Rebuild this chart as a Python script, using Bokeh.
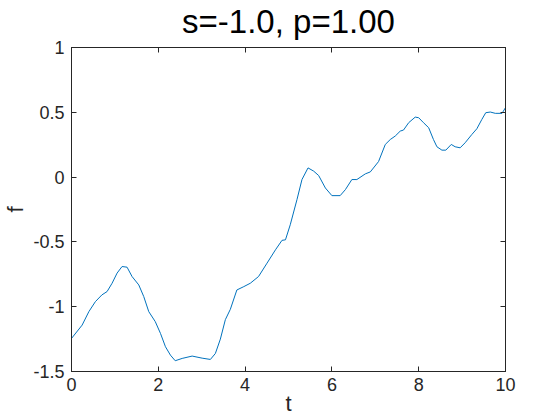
from bokeh.plotting import figure
from bokeh.models import LinearAxis, FixedTicker, CustomJSTickFormatter, Range1d
from bokeh.embed import file_html
from bokeh.resources import INLINE

# Data
t = [0.0, 0.245, 0.40, 0.55, 0.70, 0.82, 0.935, 1.05, 1.165, 1.28, 1.395, 1.55,
     1.665, 1.78, 1.93, 2.05, 2.165, 2.28, 2.39, 2.55, 2.78, 3.01, 3.2, 3.315,
     3.43, 3.545, 3.66, 3.81, 3.97, 4.12, 4.31, 4.505, 4.70, 4.85, 4.93, 5.04,
     5.195, 5.31, 5.45, 5.58, 5.695, 5.85, 6.0, 6.19, 6.31, 6.46, 6.575, 6.77,
     6.885, 7.075, 7.23, 7.345, 7.46, 7.575, 7.65, 7.77, 7.92, 8.0, 8.11, 8.23,
     8.34, 8.42, 8.535, 8.625, 8.75, 8.84, 8.955, 9.07, 9.225, 9.34, 9.455,
     9.545, 9.65, 9.765, 9.92, 10.0]
f = [-1.245, -1.142, -1.038, -0.961, -0.909, -0.883, -0.819, -0.741, -0.690,
     -0.695, -0.767, -0.832, -0.922, -1.038, -1.115, -1.206, -1.309, -1.374,
     -1.417, -1.399, -1.381, -1.397, -1.407, -1.361, -1.25, -1.10, -1.02,
     -0.871, -0.845, -0.819, -0.767, -0.664, -0.561, -0.488, -0.484, -0.368,
     -0.174, -0.019, 0.071, 0.046, 0.012, -0.084, -0.143, -0.143, -0.097,
     -0.019, -0.019, 0.025, 0.040, 0.12, 0.252, 0.290, 0.317, 0.355, 0.363,
     0.420, 0.463, 0.458, 0.420, 0.381, 0.290, 0.234, 0.208, 0.208, 0.252,
     0.234, 0.226, 0.265, 0.329, 0.373, 0.445, 0.497, 0.502, 0.492, 0.492,
     0.536]
x_ticks = [0, 2, 4, 6, 8, 10]
y_ticks = [-1.5, -1, -0.5, 0, 0.5, 1]
title_text = "s=-1.0, p=1.00"

FONT = "Liberation Sans"
AXC = "#262626"

p = figure(frame_width=434, frame_height=324, output_backend="svg",
           toolbar_location=None,
           x_range=Range1d(0, 10), y_range=Range1d(-1.5, 1),
           x_axis_label="t", y_axis_label="f", title=title_text,
           min_border_left=65, min_border_right=45, min_border_top=45,
           min_border_bottom=20)
p.styles = {"margin-top": "-8px"}
p.background_fill_color = "white"
p.border_fill_color = "white"
p.outline_line_color = AXC
p.outline_line_width = 1
p.xgrid.visible = False
p.ygrid.visible = False

p.title.align = "center"
p.title.text_font = FONT
p.title.text_font_size = "33px"
p.title.text_font_style = "normal"
p.title.text_color = "black"
p.title.standoff = 16

fmt = CustomJSTickFormatter(code="return tick.toString();")
blank = CustomJSTickFormatter(code="return '';")

def style(ax, ticks, formatter, labels=True):
    ax.ticker = FixedTicker(ticks=ticks)
    ax.formatter = formatter
    ax.axis_line_color = AXC
    ax.major_tick_line_color = AXC
    ax.major_tick_in = 5
    ax.major_tick_out = 0
    ax.minor_tick_line_color = None
    ax.major_label_text_font = FONT
    ax.major_label_text_font_size = "18px" if labels else "0px"
    ax.major_label_text_color = AXC
    ax.major_label_standoff = 7 if labels else 0
    ax.axis_label_text_font = FONT
    ax.axis_label_text_font_size = "22px"
    ax.axis_label_text_font_style = "normal"
    ax.axis_label_text_color = AXC
    ax.axis_label_standoff = 2

style(p.xaxis[0], x_ticks, fmt)
style(p.yaxis[0], y_ticks, fmt)
p.xaxis[0].major_label_standoff = 6
p.xaxis[0].axis_label_standoff = -3

top = LinearAxis()
style(top, x_ticks, blank, labels=False)
right = LinearAxis()
style(right, y_ticks, blank, labels=False)
p.add_layout(top, "above")
p.add_layout(right, "right")

p.line(t, f, line_color="#0072BD", line_width=1.0)

open("out.html", "w").write(file_html(p, INLINE))
